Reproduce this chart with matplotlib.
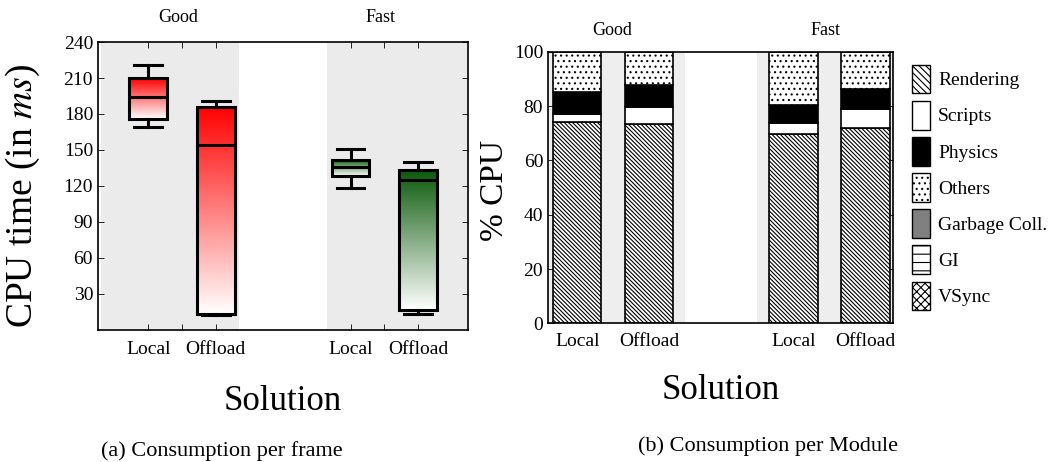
import numpy as np
import matplotlib
matplotlib.use("Agg")
import matplotlib.pyplot as plt
from matplotlib.colors import LinearSegmentedColormap
from matplotlib.patches import Patch

plt.rcParams["font.family"] = ["Liberation Serif", "DejaVu Serif"]
plt.rcParams["mathtext.fontset"] = "stix"
plt.rcParams["hatch.linewidth"] = 0.8

# --- (a) consumption per frame: box stats ---
box_pos = [1, 2, 4, 5]
box_lo = [169, 12.5, 118, 13.6]
box_q1 = [176, 13.3, 128, 16.7]
box_med = [194, 154, 135.5, 125]
box_q3 = [210, 186, 142, 133]
box_hi = [221, 190.5, 151, 140]
box_colors = ["#ff0000", "#ff0000", "#0b5a0b", "#0b5a0b"]
x_labels = ["Local", "", "Offload"]
group_names = ["Good", "Fast"]

# --- (b) consumption per module (%) ---
bar_pos = [1, 2, 4, 5]
modules = ["Rendering", "Scripts", "Physics", "Others",
           "Garbage Coll.", "GI", "VSync"]
rendering = [74.0, 73.5, 69.7, 72.1]
scripts = [3.1, 6.3, 4.0, 6.9]
physics = [7.9, 7.8, 6.8, 7.2]
others = [15.0, 12.4, 19.5, 13.8]
garbage = [0, 0, 0, 0]
gi = [0, 0, 0, 0]
vsync = [0, 0, 0, 0]

fig = plt.figure(figsize=(10.5, 4.62), dpi=100)
ax1 = fig.add_axes([0.0933, 0.286, 0.3524, 0.623])
ax2 = fig.add_axes([0.522, 0.300, 0.3283, 0.588])

# ---------- left panel ----------
stats = [dict(whislo=lo, q1=a, med=m, q3=b, whishi=hi)
         for lo, a, m, b, hi in zip(box_lo, box_q1, box_med, box_q3, box_hi)]
ax1.axvspan(0.3, 2.35, color="#ebebeb", zorder=0, lw=0)
ax1.axvspan(3.65, 5.72, color="#ebebeb", zorder=0, lw=0)
bp = ax1.bxp(stats, positions=box_pos, widths=0.56, capwidths=0.41,
             showfliers=False, patch_artist=True,
             boxprops=dict(facecolor="none", edgecolor="black", lw=2.2),
             whiskerprops=dict(color="black", lw=2.2),
             capprops=dict(color="black", lw=2.2),
             medianprops=dict(color="black", lw=2.2))
grad = np.linspace(1, 0, 256).reshape(-1, 1)
for box, x, a, b, c in zip(bp["boxes"], box_pos, box_q1, box_q3, box_colors):
    cmap = LinearSegmentedColormap.from_list("g", ["white", c])
    im = ax1.imshow(grad, cmap=cmap, aspect="auto", vmin=0, vmax=1,
                    extent=[x - 0.28, x + 0.28, a, b], zorder=1.5)
    im.set_clip_path(box)
    box.set_zorder(2)
ax1.set_xlim(0.255, 5.74)
ax1.set_ylim(0, 240)
ax1.set_yticks([30, 60, 90, 120, 150, 180, 210, 240])
ax1.set_xticks([1, 1.5, 2, 4, 4.5, 5])
ax1.set_xticklabels(x_labels * 2)
ax1.tick_params(direction="in", top=True, right=True, labelsize=14,
                length=4, width=0.6)
ax1.tick_params(axis="x", pad=8)
for s in ax1.spines.values():
    s.set_linewidth(1.2)
for name, xc in zip(group_names, [1.45, 4.45]):
    ax1.text(xc, 1.085, name, transform=ax1.get_xaxis_transform(),
             ha="center", va="center", fontsize=13)
ax1.set_ylabel("CPU time (in $ms$)", fontsize=27)
ax1.yaxis.set_label_coords(-0.152, 0.465)
ax1.set_xlabel("Solution", fontsize=25)
ax1.xaxis.set_label_coords(0.5, -0.19)

# ---------- right panel ----------
ax2.axvspan(0.6, 2.5, color="#eeeeee", zorder=0, lw=0)
ax2.axvspan(3.5, 5.4, color="#eeeeee", zorder=0, lw=0)
series = [rendering, scripts, physics, others, garbage, gi, vsync]
faces = ["white", "white", "black", "white", "#808080", "white", "white"]
hatches = ["\\" * 8, None, None, "...", None, "--", "xxxx"]
bottom = np.zeros(len(bar_pos))
for vals, fc, h in zip(series, faces, hatches):
    ax2.bar(bar_pos, vals, width=0.67, bottom=bottom, color=fc,
            edgecolor="black", lw=1.2, hatch=h, zorder=2)
    bottom += np.array(vals)
ax2.set_xlim(0.595, 5.38)
ax2.set_ylim(0, 100)
ax2.set_yticks([0, 20, 40, 60, 80, 100])
ax2.set_xticks(bar_pos)
ax2.set_xticklabels(["Local", "Offload", "Local", "Offload"])
ax2.tick_params(direction="in", top=True, right=True, labelsize=14,
                length=4, width=0.6)
ax2.tick_params(axis="x", pad=7)
for s in ax2.spines.values():
    s.set_linewidth(1.2)
for name, xc in zip(group_names, [1.48, 4.45]):
    ax2.text(xc, 1.08, name, transform=ax2.get_xaxis_transform(),
             ha="center", va="center", fontsize=13)
ax2.set_ylabel("% CPU", fontsize=24)
ax2.yaxis.set_label_coords(-0.11, 0.49)
ax2.set_xlabel("Solution", fontsize=25)
ax2.xaxis.set_label_coords(0.5, -0.185)

handles = [Patch(facecolor=fc, edgecolor="black", hatch=h, lw=1.0)
           for fc, h in zip(faces, ["\\" * 5, None, None, "...", None, "--", "xxxx"])]
fig.legend(handles, modules, loc="upper left",
           bbox_to_anchor=(0.861, 0.877), frameon=False, fontsize=14,
           handlelength=0.95, handleheight=1.9, handletextpad=0.4,
           labelspacing=0.38, borderaxespad=0)

fig.text(0.2115, 0.012, "(a) Consumption per frame", ha="center",
         va="baseline", fontsize=16)
fig.text(0.731, 0.023, "(b) Consumption per Module", ha="center",
         va="baseline", fontsize=16)

fig.savefig("out.png", dpi=100)
